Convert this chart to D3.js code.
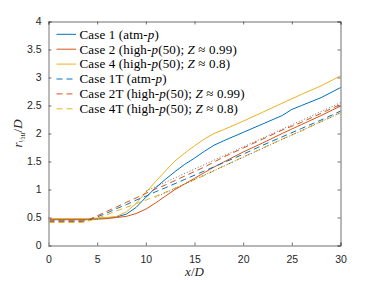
<!DOCTYPE html>
<html>
<head>
<meta charset="utf-8">
<script src="https://cdn.jsdelivr.net/npm/d3@7"></script>
<style>
  body { margin: 0; background: #fff; }
  .tick text { font-family: "Liberation Sans", Arial, sans-serif; font-size: 10.5px; fill: #262626; }
</style>
</head>
<body>
<svg id="chart" width="376" height="282"></svg>
<script>
// x/D positions and r_1/2u/D values
const case1X  = [0, 2, 4, 5, 6, 7, 8, 9, 10, 11, 12, 13, 14, 15, 16, 17, 18, 20, 22, 24, 25, 26, 28, 30];
const case1Y  = [0.47, 0.47, 0.47, 0.48, 0.49, 0.51, 0.56, 0.68, 0.86, 1.03, 1.18, 1.32, 1.45, 1.56, 1.68, 1.79, 1.87, 2.02, 2.17, 2.32, 2.43, 2.50, 2.64, 2.82];
const case2X  = [0, 4, 6, 7, 8, 9, 10, 11, 12, 13, 14, 15, 16, 17, 18, 20, 22, 24, 26, 28, 30];
const case2Y  = [0.46, 0.46, 0.48, 0.50, 0.52, 0.57, 0.65, 0.76, 0.88, 1.00, 1.10, 1.20, 1.30, 1.40, 1.49, 1.67, 1.83, 2.00, 2.16, 2.32, 2.49];
const case4X  = [0, 4, 5, 6, 7, 8, 9, 10, 11, 12, 13, 14, 15, 16, 17, 18, 20, 22, 24, 26, 28, 30];
const case4Y  = [0.48, 0.48, 0.49, 0.50, 0.52, 0.60, 0.75, 0.95, 1.14, 1.33, 1.51, 1.65, 1.78, 1.90, 2.00, 2.07, 2.22, 2.38, 2.54, 2.70, 2.85, 3.03];
const case1TX = [0, 3.5, 4, 5, 6, 7, 8, 9, 10, 11, 12, 14, 16, 18, 20, 22, 24, 26, 28, 30];
const case1TY = [0.44, 0.44, 0.45, 0.51, 0.58, 0.66, 0.73, 0.81, 0.88, 0.96, 1.03, 1.18, 1.33, 1.48, 1.63, 1.79, 1.94, 2.09, 2.24, 2.40];
const case2TX = [0, 3.5, 4, 5, 6, 7, 8, 9, 10, 11, 12, 13, 14, 15, 16, 18, 20, 22, 24, 26, 28, 30];
const case2TY = [0.43, 0.43, 0.45, 0.53, 0.61, 0.69, 0.77, 0.85, 0.93, 1.01, 1.08, 1.16, 1.24, 1.32, 1.40, 1.58, 1.74, 1.90, 2.06, 2.20, 2.36, 2.52];
const case4TX = [0, 3.5, 4, 5, 6, 7, 8, 9, 10, 11, 12, 14, 16, 18, 20, 22, 24, 26, 28, 30];
const case4TY = [0.41, 0.41, 0.43, 0.48, 0.55, 0.62, 0.68, 0.75, 0.81, 0.88, 0.95, 1.10, 1.25, 1.42, 1.58, 1.74, 1.90, 2.05, 2.21, 2.37];
// thin black dotted lines (not in legend)
const refAX = [10, 30];
const refAY = [0.97, 2.55];
const refBX = [11, 30];
const refBY = [0.86, 2.37];

const xTicks = [0, 5, 10, 15, 20, 25, 30];
const yTicks = [0, 0.5, 1, 1.5, 2, 2.5, 3, 3.5, 4];

const blue = '#0072BD', orange = '#D95319', yellow = '#EDB120';

const series = [
  { name: 'Case 1', tag: 'atm', xs: case1X, ys: case1Y, color: blue, dash: null },
  { name: 'Case 2', tag: '0.99', xs: case2X, ys: case2Y, color: orange, dash: null },
  { name: 'Case 4', tag: '0.8', xs: case4X, ys: case4Y, color: yellow, dash: null },
  { name: 'Case 1T', tag: 'atm', xs: case1TX, ys: case1TY, color: blue, dash: '6,4' },
  { name: 'Case 2T', tag: '0.99', xs: case2TX, ys: case2TY, color: orange, dash: '6,4' },
  { name: 'Case 4T', tag: '0.8', xs: case4TX, ys: case4TY, color: yellow, dash: '6,4' }
];

const svg = d3.select('#chart');
const mLeft = 48.5, mRight = 340.5, mTop = 21.5, mBottom = 245.5;

const x = d3.scaleLinear().domain([0, 30]).range([mLeft, mRight]);
const y = d3.scaleLinear().domain([0, 4]).range([mBottom, mTop]);

const line = d3.line().x(d => x(d[0])).y(d => y(d[1]));

// data lines
const plot = svg.append('g');
series.forEach(s => {
  plot.append('path')
    .datum(s.xs.map((v, i) => [v, s.ys[i]]))
    .attr('d', line)
    .attr('fill', 'none')
    .attr('stroke', s.color)
    .attr('stroke-width', 1)
    .attr('stroke-dasharray', s.dash);
});
[[refAX, refAY], [refBX, refBY]].forEach(r => {
  plot.append('path')
    .datum(r[0].map((v, i) => [v, r[1][i]]))
    .attr('d', line)
    .attr('fill', 'none')
    .attr('stroke', '#333')
    .attr('stroke-width', 0.7)
    .attr('stroke-dasharray', '1,2');
});

// axes with inward ticks
const axisColor = '#4d4d4d';
const gx = svg.append('g').attr('transform', `translate(0,${mBottom})`)
  .call(d3.axisBottom(x).tickValues(xTicks).tickSize(-3).tickPadding(10).tickFormat(d3.format('d')));
const gy = svg.append('g').attr('transform', `translate(${mLeft},0)`)
  .call(d3.axisLeft(y).tickValues(yTicks).tickSize(-3).tickPadding(7).tickFormat(d => d));
const gxt = svg.append('g').attr('transform', `translate(0,${mTop})`)
  .call(d3.axisTop(x).tickValues(xTicks).tickSize(-3).tickFormat(''));
const gyr = svg.append('g').attr('transform', `translate(${mRight},0)`)
  .call(d3.axisRight(y).tickValues(yTicks).tickSize(-3).tickFormat(''));
[gx, gy, gxt, gyr].forEach(g => {
  g.selectAll('path.domain').attr('stroke', axisColor).attr('stroke-width', 0.8);
  g.selectAll('.tick line').attr('stroke', axisColor).attr('stroke-width', 0.8);
});
gy.select('path.domain').attr('stroke', '#aaa').attr('stroke-width', 1.6);

// axis labels
const serif = '"Liberation Serif", "Times New Roman", serif';
svg.append('text')
  .attr('x', (mLeft + mRight) / 2).attr('y', 276)
  .attr('text-anchor', 'middle')
  .style('font-family', serif).style('font-size', '13px').style('fill', '#262626')
  .html('<tspan font-style="italic">x</tspan>/<tspan font-style="italic">D</tspan>');

const ylab = svg.append('text')
  .attr('transform', `translate(22,${(mTop + mBottom) / 2}) rotate(-90)`)
  .attr('text-anchor', 'middle')
  .style('font-family', serif).style('font-size', '13px').style('fill', '#262626');
ylab.append('tspan').attr('font-style', 'italic').text('r');
ylab.append('tspan').attr('font-size', '8px').attr('dy', 3).text('½');
ylab.append('tspan').attr('font-size', '8px').attr('font-style', 'italic').text('u');
ylab.append('tspan').attr('dy', -3).text('/');
ylab.append('tspan').attr('font-style', 'italic').text('D');

// legend
const leg = svg.append('g');
series.forEach((s, i) => {
  const ly = 34.3 + i * 14.9;
  leg.append('line')
    .attr('x1', 56.5).attr('x2', 76).attr('y1', ly).attr('y2', ly)
    .attr('stroke', s.color).attr('stroke-width', 1)
    .attr('stroke-dasharray', s.dash);
  const t = leg.append('text')
    .attr('x', 79.5).attr('y', ly + 4.3)
    .style('font-family', serif).style('font-size', '13px')
    .style('letter-spacing', '0.15px').style('fill', '#000');
  if (s.tag === 'atm') {
    t.append('tspan').text(s.name + ' (atm-');
    t.append('tspan').attr('font-style', 'italic').text('p');
    t.append('tspan').text(')');
  } else {
    t.append('tspan').text(s.name + ' (high-');
    t.append('tspan').attr('font-style', 'italic').text('p');
    t.append('tspan').text('(50); ');
    t.append('tspan').attr('font-style', 'italic').text('Z');
    t.append('tspan').text(' \u2248 ' + s.tag + ')');
  }
});
</script>
</body>
</html>
